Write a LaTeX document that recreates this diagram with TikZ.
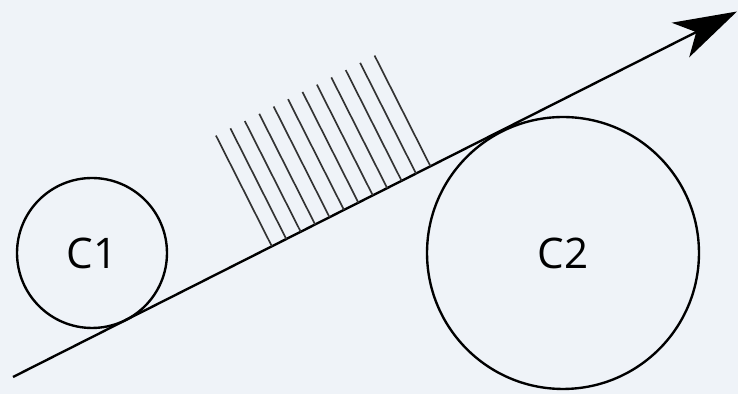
\documentclass[tikz,border=0pt]{standalone}
\usepackage{fontspec}
\setmainfont{Open Sans}
\usetikzlibrary{arrows.meta,calc}
\definecolor{bgpaper}{RGB}{239,243,248}
\begin{document}
\begin{tikzpicture}[x=0.02cm,y=-0.02cm,
  roller/.style={circle,draw,line width=1.35pt,inner sep=0pt,font=\fontsize{24}{28}\selectfont},
  hatch/.style={line width=0.95pt,black!80}]
\fill[bgpaper] (0,0) rectangle (738,394);
\useasboundingbox (0,0) rectangle (738,394);
\coordinate (start) at (13,377);
\coordinate (tip) at (737,11.5);
\node[roller,minimum size=3cm] (c1) at (92,253) {C1};
\node[roller,minimum size=5.44cm] (c2) at (563,253) {C2};
\draw[line width=1.35pt,-{Stealth[length=36pt,width=22pt,inset=10pt]}] (start) -- (tip);
% hatching on the upper side of the line
\foreach \i in {0,...,11}
  \draw[hatch] ($(start)+(-26.79:290+16.15*\i)$) -- ++(-116.79:124);
\end{tikzpicture}
\end{document}
